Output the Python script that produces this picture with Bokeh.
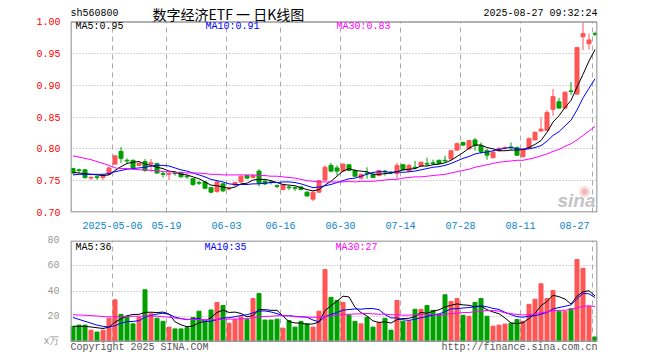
from bokeh.plotting import figure
from bokeh.layouts import column
from bokeh.models import (ColumnDataSource, FixedTicker, Range1d, Label, NumeralTickFormatter)
from bokeh.embed import file_html
from bokeh.resources import INLINE

# ---------------- data ----------------
opens = [0.769, 0.767, 0.767, 0.754, 0.756, 0.755, 0.760, 0.776, 0.796, 0.782,
         0.782, 0.774, 0.780, 0.776, 0.777, 0.761, 0.760, 0.762, 0.763, 0.757,
         0.753, 0.747, 0.748, 0.739, 0.733, 0.745, 0.737, 0.743, 0.748, 0.758,
         0.755, 0.765, 0.749, 0.748, 0.742, 0.736, 0.740, 0.739, 0.740, 0.732,
         0.721, 0.732, 0.751, 0.774, 0.770, 0.765, 0.775, 0.766, 0.754, 0.762,
         0.760, 0.758, 0.765, 0.763, 0.761, 0.775, 0.765, 0.771, 0.773, 0.777,
         0.778, 0.782, 0.782, 0.784, 0.798, 0.810, 0.800, 0.814, 0.805, 0.797,
         0.786, 0.797, 0.801, 0.803, 0.802, 0.788, 0.801, 0.814, 0.828, 0.829,
         0.862, 0.874, 0.864, 0.891, 0.886, 0.976, 0.965, 0.981]
highs = [0.770, 0.769, 0.768, 0.758, 0.758, 0.760, 0.772, 0.789, 0.803, 0.785,
         0.783, 0.779, 0.784, 0.784, 0.778, 0.764, 0.763, 0.764, 0.764, 0.759,
         0.754, 0.750, 0.749, 0.740, 0.749, 0.746, 0.741, 0.748, 0.758, 0.759,
         0.760, 0.768, 0.751, 0.750, 0.744, 0.744, 0.742, 0.741, 0.741, 0.733,
         0.733, 0.751, 0.774, 0.778, 0.774, 0.777, 0.776, 0.768, 0.761, 0.771,
         0.761, 0.767, 0.767, 0.765, 0.778, 0.776, 0.776, 0.781, 0.780, 0.786,
         0.783, 0.783, 0.789, 0.798, 0.810, 0.811, 0.814, 0.817, 0.810, 0.800,
         0.796, 0.802, 0.804, 0.810, 0.803, 0.801, 0.818, 0.827, 0.849, 0.861,
         0.894, 0.880, 0.890, 0.905, 0.960, 0.998, 0.981, 0.984]
lows = [0.760, 0.762, 0.753, 0.751, 0.751, 0.751, 0.759, 0.775, 0.778, 0.777,
        0.768, 0.773, 0.764, 0.764, 0.761, 0.755, 0.751, 0.758, 0.755, 0.753,
        0.742, 0.743, 0.737, 0.730, 0.731, 0.732, 0.735, 0.742, 0.747, 0.753,
        0.754, 0.741, 0.743, 0.744, 0.738, 0.735, 0.735, 0.734, 0.735, 0.725,
        0.718, 0.731, 0.750, 0.763, 0.758, 0.764, 0.765, 0.756, 0.752, 0.753,
        0.754, 0.757, 0.758, 0.760, 0.753, 0.766, 0.763, 0.768, 0.772, 0.773,
        0.775, 0.776, 0.779, 0.783, 0.797, 0.804, 0.799, 0.797, 0.792, 0.783,
        0.785, 0.796, 0.799, 0.798, 0.789, 0.786, 0.800, 0.813, 0.827, 0.828,
        0.852, 0.863, 0.862, 0.885, 0.885, 0.955, 0.956, 0.977]
closes = [0.762, 0.766, 0.755, 0.755, 0.755, 0.759, 0.770, 0.789, 0.785, 0.781,
          0.770, 0.777, 0.766, 0.778, 0.762, 0.760, 0.761, 0.761, 0.756, 0.756,
          0.744, 0.746, 0.738, 0.732, 0.748, 0.734, 0.738, 0.747, 0.757, 0.754,
          0.758, 0.746, 0.745, 0.747, 0.741, 0.743, 0.739, 0.738, 0.736, 0.726,
          0.732, 0.750, 0.771, 0.765, 0.765, 0.776, 0.766, 0.757, 0.760, 0.761,
          0.755, 0.766, 0.764, 0.762, 0.774, 0.767, 0.774, 0.770, 0.779, 0.776,
          0.777, 0.777, 0.781, 0.797, 0.808, 0.806, 0.813, 0.805, 0.796, 0.790,
          0.795, 0.801, 0.802, 0.802, 0.790, 0.800, 0.816, 0.826, 0.831, 0.857,
          0.882, 0.864, 0.889, 0.890, 0.959, 0.981, 0.971, 0.980]
volumes = [12, 13, 13, 9, 7.5, 9, 18.5, 33, 21.5, 20,
           14, 19, 41, 22, 18.5, 16, 11.4, 10, 10, 11,
           19, 24, 16, 25, 31, 28.5, 14.5, 17.4, 19.5, 17.4,
           34, 38, 17, 17, 17.7, 10.6, 16.6, 11.4, 16, 14,
           11.4, 24, 57, 35, 32.5, 31, 21, 16, 14, 19,
           11.4, 15, 18.4, 9, 32.5, 16, 16, 25.5, 25.5, 28.5,
           24.7, 21.5, 37, 31.7, 34, 20.8, 20, 31, 34, 20,
           12.2, 13, 13.8, 14.5, 17.4, 16, 29.4, 33.5, 45.7, 34,
           40.3, 24, 24, 26, 65, 58, 27.8, 3.6]

ma5 = [0.763, 0.762, 0.761, 0.760, 0.759, 0.758, 0.759, 0.766, 0.772, 0.777,
       0.779, 0.780, 0.776, 0.774, 0.771, 0.769, 0.765, 0.764, 0.760, 0.759,
       0.756, 0.753, 0.748, 0.743, 0.742, 0.740, 0.738, 0.740, 0.745, 0.746,
       0.751, 0.752, 0.752, 0.750, 0.747, 0.744, 0.743, 0.742, 0.739, 0.736,
       0.734, 0.736, 0.743, 0.749, 0.757, 0.765, 0.769, 0.766, 0.765, 0.764,
       0.760, 0.760, 0.761, 0.762, 0.764, 0.767, 0.768, 0.769, 0.773, 0.773,
       0.775, 0.776, 0.778, 0.782, 0.788, 0.794, 0.801, 0.806, 0.806, 0.802,
       0.800, 0.797, 0.797, 0.798, 0.798, 0.799, 0.802, 0.807, 0.813, 0.826,
       0.842, 0.852, 0.865, 0.876, 0.897, 0.917, 0.938, 0.956]
ma10 = [0.759, 0.760, 0.760, 0.760, 0.760, 0.760, 0.761, 0.764, 0.766, 0.768,
        0.769, 0.770, 0.771, 0.773, 0.774, 0.774, 0.773, 0.770, 0.767, 0.765,
        0.762, 0.759, 0.756, 0.752, 0.750, 0.748, 0.745, 0.744, 0.744, 0.744,
        0.745, 0.745, 0.746, 0.747, 0.747, 0.748, 0.748, 0.747, 0.745, 0.742,
        0.739, 0.740, 0.742, 0.744, 0.747, 0.750, 0.753, 0.754, 0.757, 0.760,
        0.763, 0.764, 0.764, 0.763, 0.764, 0.763, 0.764, 0.765, 0.767, 0.769,
        0.771, 0.772, 0.774, 0.777, 0.781, 0.785, 0.788, 0.792, 0.794, 0.795,
        0.797, 0.799, 0.801, 0.802, 0.800, 0.799, 0.800, 0.802, 0.805, 0.812,
        0.821, 0.827, 0.836, 0.845, 0.861, 0.880, 0.895, 0.910]
ma30 = [0.789, 0.787, 0.785, 0.783, 0.780, 0.777, 0.774, 0.770, 0.769, 0.769,
        0.768, 0.767, 0.767, 0.766, 0.766, 0.764, 0.764, 0.763, 0.763, 0.762,
        0.762, 0.762, 0.761, 0.760, 0.760, 0.759, 0.759, 0.759, 0.759, 0.759,
        0.759, 0.758, 0.758, 0.757, 0.757, 0.756, 0.755, 0.754, 0.752, 0.750,
        0.749, 0.748, 0.748, 0.748, 0.748, 0.748, 0.749, 0.748, 0.749, 0.749,
        0.749, 0.750, 0.751, 0.752, 0.752, 0.754, 0.755, 0.756, 0.756, 0.757,
        0.758, 0.759, 0.760, 0.762, 0.764, 0.766, 0.768, 0.771, 0.773, 0.775,
        0.777, 0.779, 0.780, 0.781, 0.782, 0.782, 0.784, 0.786, 0.789, 0.792,
        0.796, 0.799, 0.804, 0.808, 0.814, 0.821, 0.828, 0.835]

vol_ma5 = [12, 12, 12, 11.5, 10.9, 10.3, 11.4, 15.4, 17.9, 20.4,
           21.4, 21.5, 23.1, 23.2, 22.9, 23.3, 21.8, 15.6, 13.2, 11.7,
           12.3, 14.8, 16.0, 19.0, 23.0, 24.9, 23.0, 23.3, 22.2, 19.5,
           20.6, 25.3, 25.2, 24.7, 24.7, 20.1, 15.8, 14.7, 14.5, 13.7,
           13.9, 15.4, 24.5, 28.3, 32.0, 35.9, 35.3, 27.1, 22.9, 20.2,
           16.3, 15.1, 15.6, 14.6, 17.3, 18.2, 18.4, 19.8, 23.1, 22.3,
           24.0, 25.1, 27.4, 28.7, 29.8, 29.0, 28.7, 27.5, 28.0, 25.2,
           23.4, 22.0, 18.6, 14.7, 14.2, 14.9, 18.2, 22.2, 28.4, 31.7,
           36.6, 35.5, 33.6, 29.7, 35.9, 39.4, 40.2, 36.1]
vol_ma10 = [19, 17.5, 16, 14.5, 13, 12, 11.5, 12.5, 14.5, 15.7,
            15.9, 16.5, 19.3, 20.6, 21.7, 22.4, 21.6, 19.3, 18.2, 17.3,
            17.8, 18.3, 15.8, 16.1, 17.3, 18.6, 18.9, 19.6, 20.6, 21.2,
            22.7, 24.1, 24.2, 23.4, 22.1, 20.3, 20.5, 19.9, 19.6, 19.2,
            17.0, 15.6, 19.6, 21.4, 22.9, 24.9, 25.3, 25.8, 25.6, 26.1,
            26.1, 25.2, 21.3, 18.7, 18.7, 17.2, 16.7, 17.7, 18.8, 19.8,
            21.1, 21.8, 23.6, 25.9, 26.0, 26.5, 26.9, 27.5, 28.3, 27.5,
            26.2, 25.4, 23.1, 21.3, 19.7, 19.2, 20.1, 20.4, 21.6, 23.0,
            25.8, 26.9, 27.9, 29.0, 33.8, 38.0, 37.8, 34.8]
vol_ma30 = [21.3, 21.0, 20.8, 20.5, 20.2, 19.8, 19.5, 19.6, 19.8, 20.0,
            20.0, 20.0, 20.2, 20.2, 20.0, 19.6, 19.2, 18.6, 18.0, 17.6,
            17.4, 17.4, 17.3, 17.3, 17.4, 17.6, 17.7, 17.8, 17.9, 18.1,
            18.8, 19.6, 19.8, 20.0, 20.4, 20.4, 20.4, 19.6, 19.5, 19.3,
            19.2, 19.3, 19.9, 20.3, 20.8, 21.3, 21.6, 21.8, 21.9, 22.2,
            21.9, 21.6, 21.7, 21.2, 21.2, 20.8, 20.9, 21.1, 21.3, 21.7,
            21.4, 20.8, 21.5, 22.0, 22.5, 22.9, 23.0, 23.6, 24.2, 24.5,
            24.5, 24.1, 22.7, 22.0, 21.5, 21.0, 21.3, 21.8, 22.9, 23.4,
            24.4, 24.7, 24.8, 25.4, 26.5, 27.9, 28.3, 27.6]

label_idx = [7, 16, 26, 35, 45, 55, 65, 75, 87]
label_text = ["2025-05-06", "05-19", "06-03", "06-16", "06-30",
              "07-14", "07-28", "08-11", "08-27"]
price_ticks = [0.70, 0.75, 0.80, 0.85, 0.90, 0.95, 1.00]
vol_ticks = [0, 20, 40, 60, 80]
vol_tick_labels = {0: "x万"}

symbol = "sh560800"
title_text = "数字经济ETF 一 日K线图"
stamp = "2025-08-27 09:32:24"
price_ma_text = ["MA5:0.95", "MA10:0.91", "MA30:0.83"]
vol_ma_text = ["MA5:36", "MA10:35", "MA30:27"]
footer_left = "Copyright 2025 SINA.COM"
footer_right = "http://finance.sina.com.cn"

# ---------------- styling / layout (pixels) ----------------
MONO = "Liberation Mono"
CJK = "Noto Sans CJK SC"
RED = "#ff5555"
GREEN = "#00a000"
MA_COLORS = ["#000000", "#0000ff", "#ff00ff"]
GRID = "#aaaaaa"
BORDER = "#999999"
SLOT = 6.0            # px per trading day
FW = 527              # frame width
LEFT, RIGHT = 70, 11
HEAD = 21             # header band above the price box
PH = 191              # price box height
XLAB = 20             # x label band
VTOP = 8              # gap above volume box
VH = 101              # volume box height
FOOT = 11             # footer band below volume box

n = len(closes)
xc = [k + 2.5 / SLOT for k in range(n)]
colors = [RED if c >= o else GREEN for o, c in zip(opens, closes)]
src = ColumnDataSource(dict(
    x=xc, high=highs, low=lows,
    top=[max(o, c) for o, c in zip(opens, closes)],
    bot=[min(o, c) for o, c in zip(opens, closes)],
    color=colors, vol=volumes))

xr = Range1d(0, FW / SLOT)
half_px = 0.5 / SLOT

p_lo, p_hi = price_ticks[0], price_ticks[-1]
p_per_px = (p_hi - p_lo) / PH
v_lo, v_hi = vol_ticks[0], vol_ticks[-1]
v_per_px = (v_hi - v_lo) / VH

# x tick positions for the labels (shift the last one inside the box)
xtick_pos = []
for i, t in zip(label_idx, label_text):
    half = len(t) * 3 / SLOT
    lim = (FW - 10) / SLOT - half
    xtick_pos.append(int(round(min(i, lim))))


def clean_axis(ax, color, standoff):
    ax.axis_line_color = None
    ax.major_tick_line_color = None
    ax.minor_tick_line_color = None
    ax.major_label_standoff = standoff
    ax.major_label_text_font = MONO
    ax.major_label_text_font_size = "10px"
    ax.major_label_text_color = color


def text_label(p, x, y, text, color="#000000", font=MONO, size="10px", align="left", **kw):
    p.add_layout(Label(x=x, y=y, x_units="screen", y_units="screen", text=text,
                       text_font=font, text_font_size=size, text_color=color,
                       text_baseline="middle", text_align=align, **kw))


def box(p, lo, hi, per_px):
    # plot box border: four solid edges around the value range
    x_l, x_r = half_px, FW / SLOT - half_px
    y_b, y_t = lo + 0.5 * per_px, hi - 0.5 * per_px
    p.segment(x0=[x_l, x_l, x_l, x_r], y0=[y_b, y_t, y_b, y_b],
              x1=[x_r, x_r, x_l, x_r], y1=[y_b, y_t, y_t, y_t],
              line_color=BORDER, line_width=1.5)


# ---------------- price panel (frame includes header band) ----------------
p1 = figure(width=LEFT + FW + RIGHT, height=HEAD + PH + XLAB, x_range=xr,
            y_range=Range1d(p_lo, p_hi + HEAD * p_per_px),
            output_backend="svg", toolbar_location=None,
            min_border_left=LEFT, min_border_right=RIGHT,
            min_border_top=0, min_border_bottom=XLAB)
p1.outline_line_color = None
p1.xgrid.visible = False
p1.ygrid.ticker = FixedTicker(ticks=price_ticks[1:-1])
p1.ygrid.grid_line_color = GRID
p1.ygrid.grid_line_dash = "1 2"
p1.segment(x0=label_idx, y0=[p_lo] * len(label_idx), x1=label_idx, y1=[p_hi] * len(label_idx),
           line_color=GRID, line_dash="5 4", line_width=1)

xa = p1.xaxis[0]
xa.ticker = FixedTicker(ticks=xtick_pos)
xa.major_label_overrides = {pos: t for pos, t in zip(xtick_pos, label_text)}
clean_axis(xa, "#0a84cc", 3)

ya = p1.yaxis[0]
ya.ticker = FixedTicker(ticks=price_ticks)
ya.formatter = NumeralTickFormatter(format="0.00")
clean_axis(ya, "#ff0000", 4)

p1.segment(x0="x", y0="low", x1="x", y1="high", line_color="color", line_width=1, source=src)
p1.vbar(x="x", width=4 / SLOT, top="top", bottom="bot", fill_color="color",
        line_color="color", line_width=1, source=src)
for ys, col in zip([ma5, ma10, ma30], MA_COLORS):
    p1.line(xc, ys, line_color=col, line_width=1)
box(p1, p_lo, p_hi, p_per_px)

FH1 = HEAD + PH
text_label(p1, 0, FH1 - 13, symbol)
text_label(p1, 82, FH1 - 13, title_text, font=CJK, size="14px")
text_label(p1, FW, FH1 - 13, stamp, align="right")
for xs, t, col in zip([5, 135, 266], price_ma_text, MA_COLORS):
    text_label(p1, xs, FH1 - 26, t, color=col)
# watermark
text_label(p1, 514, 22, "◉", color="#f3b8b8", font="DejaVu Sans", size="13px", align="center")
text_label(p1, FW - 2, 12, "sina", color="#c4c4c4", font="Liberation Sans", size="19px",
           align="right", text_font_style="bold italic")

# ---------------- volume panel (frame includes footer band) ----------------
p2 = figure(width=LEFT + FW + RIGHT, height=VTOP + VH + FOOT, x_range=xr,
            y_range=Range1d(v_lo - FOOT * v_per_px, v_hi),
            output_backend="svg", toolbar_location=None, x_axis_location=None,
            min_border_left=LEFT, min_border_right=RIGHT,
            min_border_top=VTOP, min_border_bottom=0)
p2.outline_line_color = None
p2.xgrid.visible = False
p2.ygrid.ticker = FixedTicker(ticks=vol_ticks[1:-1])
p2.ygrid.grid_line_color = GRID
p2.ygrid.grid_line_dash = "1 2"
p2.segment(x0=label_idx, y0=[v_lo] * len(label_idx), x1=label_idx, y1=[v_hi] * len(label_idx),
           line_color=GRID, line_dash="5 4", line_width=1)

va = p2.yaxis[0]
va.ticker = FixedTicker(ticks=vol_ticks)
va.major_label_overrides = vol_tick_labels
clean_axis(va, "#999999", 5)

p2.vbar(x="x", width=4 / SLOT, top="vol", bottom=0, fill_color="color",
        line_color="color", line_width=1, source=src)
for ys, col in zip([vol_ma5, vol_ma10, vol_ma30], MA_COLORS):
    p2.line(xc, ys, line_color=col, line_width=1)
box(p2, v_lo, v_hi, v_per_px)

FH2 = VH + FOOT
for xs, t, col in zip([5, 134, 265], vol_ma_text, MA_COLORS):
    text_label(p2, xs, FH2 - 6.5, t, color=col)
text_label(p2, 0, 5.5, footer_left, color="#555555")
text_label(p2, FW, 5.5, footer_right, color="#555555", align="right")

layout = column(p1, p2, spacing=0)
open("out.html", "w").write(file_html(layout, INLINE))
